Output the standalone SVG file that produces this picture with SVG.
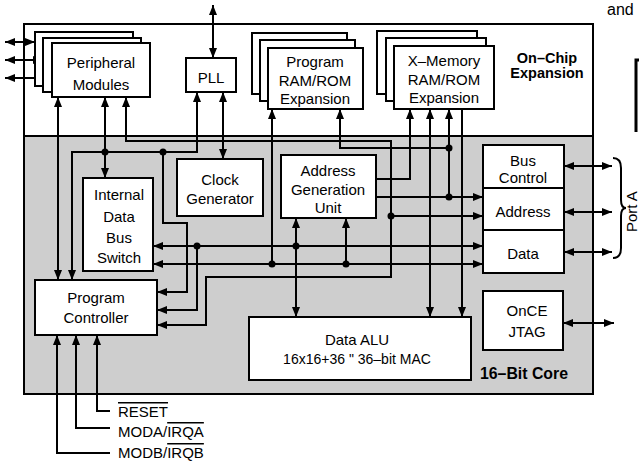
<svg xmlns="http://www.w3.org/2000/svg" width="639" height="461" viewBox="0 0 639 461">
<defs>
<marker id="ah" viewBox="0 0 10 8" refX="10" refY="4" markerWidth="10" markerHeight="8" markerUnits="userSpaceOnUse" orient="auto-start-reverse">
<path d="M0,0 L10,4 L0,8 z" fill="#000"/>
</marker>
</defs>
<style>
.box{fill:#fff;stroke:#000;stroke-width:2}
.ln{fill:none;stroke:#000;stroke-width:2}
.t{font-family:"Liberation Sans",Arial,sans-serif;font-size:15px;text-anchor:middle;fill:#000}
.s{text-anchor:start}
.b{font-weight:bold}
.dot{fill:#000}
.bi{marker-start:url(#ah);marker-end:url(#ah)}
.st{marker-start:url(#ah)}
.en{marker-end:url(#ah)}
</style>
<rect width="639" height="461" fill="#fff"/>
<g id="frame">
<rect x="24" y="136" width="569" height="258" fill="#cecece"/>
<rect x="24" y="24" width="569" height="370" fill="none" stroke="#000" stroke-width="2"/>
<line x1="24" y1="136" x2="593" y2="136" stroke="#000" stroke-width="2"/>
<path d="M639,60 H636 V132" fill="none" stroke="#000" stroke-width="3"/>
<text class="t s" x="607" y="15" style="font-size:16px">and</text>
</g>
<g id="connectors">
<path class="ln bi" d="M5,42 H35"/>
<path class="ln bi" d="M5,60 H43"/>
<path class="ln bi" d="M5,78 H52"/>
<path class="ln bi" d="M213,58 V5"/>
<path class="ln bi" d="M58,97 V280"/>
<path class="ln bi" d="M105,97 V178"/>
<path class="ln bi" d="M72,280 V152 H197 V92"/>
<path class="ln en" d="M163,152 V223 H187 V292 H157"/>
<path class="ln bi" d="M126,97 V141 H391 V277 H206 V325 H157"/>
<path class="ln en" d="M391,216 H483"/>
<path class="ln bi" d="M223,92 V159"/>
<path class="ln st" d="M272,109 V264"/>
<path class="ln st" d="M340,109 V148 H449"/>
<path class="ln st" d="M410,109 V179 H376"/>
<path class="ln bi" d="M430,109 V317"/>
<path class="ln st" d="M449,109 V197"/>
<path class="ln en" d="M462,109 V317"/>
<path class="ln en" d="M376,197 H483"/>
<path class="ln bi" d="M296,218 V317"/>
<path class="ln en" d="M346,264 V218"/>
<path class="ln bi" d="M153,246 H483"/>
<path class="ln bi" d="M153,264 H483"/>
<path class="ln en" d="M197,246 V310 H157"/>
<path class="ln bi" d="M564,166 H612"/>
<path class="ln bi" d="M564,212 H612"/>
<path class="ln bi" d="M564,252 H612"/>
<path class="ln bi" d="M563,323 H614"/>
<path class="ln st" d="M97,335 V411 H110"/>
<path class="ln st" d="M76,335 V428 H110"/>
<path class="ln st" d="M57,335 V453 H110"/>
<circle class="dot" cx="105" cy="152" r="3.5"/>
<circle class="dot" cx="163" cy="152" r="3.5"/>
<circle class="dot" cx="391" cy="216" r="3.5"/>
<circle class="dot" cx="272" cy="264" r="3.5"/>
<circle class="dot" cx="449" cy="148" r="3.5"/>
<circle class="dot" cx="449" cy="197" r="3.5"/>
<circle class="dot" cx="296" cy="246" r="3.5"/>
<circle class="dot" cx="346" cy="264" r="3.5"/>
<circle class="dot" cx="197" cy="246" r="3.5"/>
</g>
<g id="peripheral-modules">
<rect class="box" x="35" y="32" width="98" height="54"/>
<rect class="box" x="43" y="38" width="98" height="54"/>
<rect class="box" x="52" y="43" width="98" height="54"/>
<text class="t" x="101" y="68">Peripheral</text>
<text class="t" x="101" y="90">Modules</text>
</g>
<g id="pll">
<rect class="box" x="186" y="58" width="50" height="34"/>
<text class="t" x="211" y="83">PLL</text>
</g>
<g id="program-ram-rom">
<rect class="box" x="252" y="33" width="95" height="61"/>
<rect class="box" x="260" y="40" width="95" height="61"/>
<rect class="box" x="268" y="48" width="95" height="61"/>
<text class="t" x="315" y="67">Program</text>
<text class="t" x="315" y="86">RAM/ROM</text>
<text class="t" x="315" y="104">Expansion</text>
</g>
<g id="x-memory">
<rect class="box" x="377" y="31" width="100" height="63"/>
<rect class="box" x="386" y="38" width="100" height="63"/>
<rect class="box" x="394" y="46" width="100" height="63"/>
<text class="t" x="444" y="66">X–Memory</text>
<text class="t" x="444" y="85">RAM/ROM</text>
<text class="t" x="444" y="103">Expansion</text>
</g>
<g id="on-chip-expansion-label">
<text class="t b" x="547" y="63" style="font-size:14.5px">On–Chip</text>
<text class="t b" x="547" y="78" style="font-size:14.5px">Expansion</text>
</g>
<g id="clock-generator">
<rect class="box" x="177" y="159" width="86" height="57"/>
<text class="t" x="220" y="185">Clock</text>
<text class="t" x="220" y="204">Generator</text>
</g>
<g id="internal-data-bus-switch">
<rect class="box" x="83" y="178" width="70" height="93"/>
<text class="t" x="119" y="200">Internal</text>
<text class="t" x="119" y="222">Data</text>
<text class="t" x="119" y="243">Bus</text>
<text class="t" x="119" y="263">Switch</text>
</g>
<g id="address-generation-unit">
<rect class="box" x="281" y="155" width="95" height="63"/>
<text class="t" x="328" y="176">Address</text>
<text class="t" x="328" y="195">Generation</text>
<text class="t" x="328" y="213">Unit</text>
</g>
<g id="bus-interface">
<rect class="box" x="483" y="145" width="81" height="128"/>
<line x1="483" y1="188" x2="564" y2="188" stroke="#000" stroke-width="2"/>
<line x1="483" y1="230" x2="564" y2="230" stroke="#000" stroke-width="2"/>
<text class="t" x="523" y="166">Bus</text>
<text class="t" x="523" y="183">Control</text>
<text class="t" x="523" y="217">Address</text>
<text class="t" x="523" y="259">Data</text>
</g>
<g id="program-controller">
<rect class="box" x="35" y="280" width="122" height="55"/>
<text class="t" x="96" y="303">Program</text>
<text class="t" x="96" y="323">Controller</text>
</g>
<g id="data-alu">
<rect class="box" x="249" y="317" width="222" height="63"/>
<text class="t" x="357" y="345">Data ALU</text>
<text class="t" x="357" y="364" style="font-size:14px">16x16+36 " 36–bit MAC</text>
</g>
<g id="once-jtag">
<rect class="box" x="483" y="291" width="80" height="59"/>
<text class="t" x="527" y="316">OnCE</text>
<text class="t" x="527" y="337">JTAG</text>
</g>
<g id="core-label">
<text class="t s b" x="480" y="379" style="font-size:17px" textLength="88" lengthAdjust="spacingAndGlyphs">16–Bit Core</text>
</g>
<g id="port-a">
<path d="M613,158 Q621,158 621,168 L621,200 Q621,208 626,208 Q621,208 621,216 L621,248 Q621,258 613,258" fill="none" stroke="#000" stroke-width="2"/>
<text class="t s" transform="translate(637,232) rotate(-90)" x="0" y="0">Port A</text>
</g>
<g id="pin-labels">
<text class="t s" x="118" y="417"><tspan text-decoration="overline">RESET</tspan></text>
<text class="t s" x="118" y="437">MODA/<tspan text-decoration="overline">IRQA</tspan></text>
<text class="t s" x="118" y="458">MODB/<tspan text-decoration="overline">IRQB</tspan></text>
</g>
</svg>
